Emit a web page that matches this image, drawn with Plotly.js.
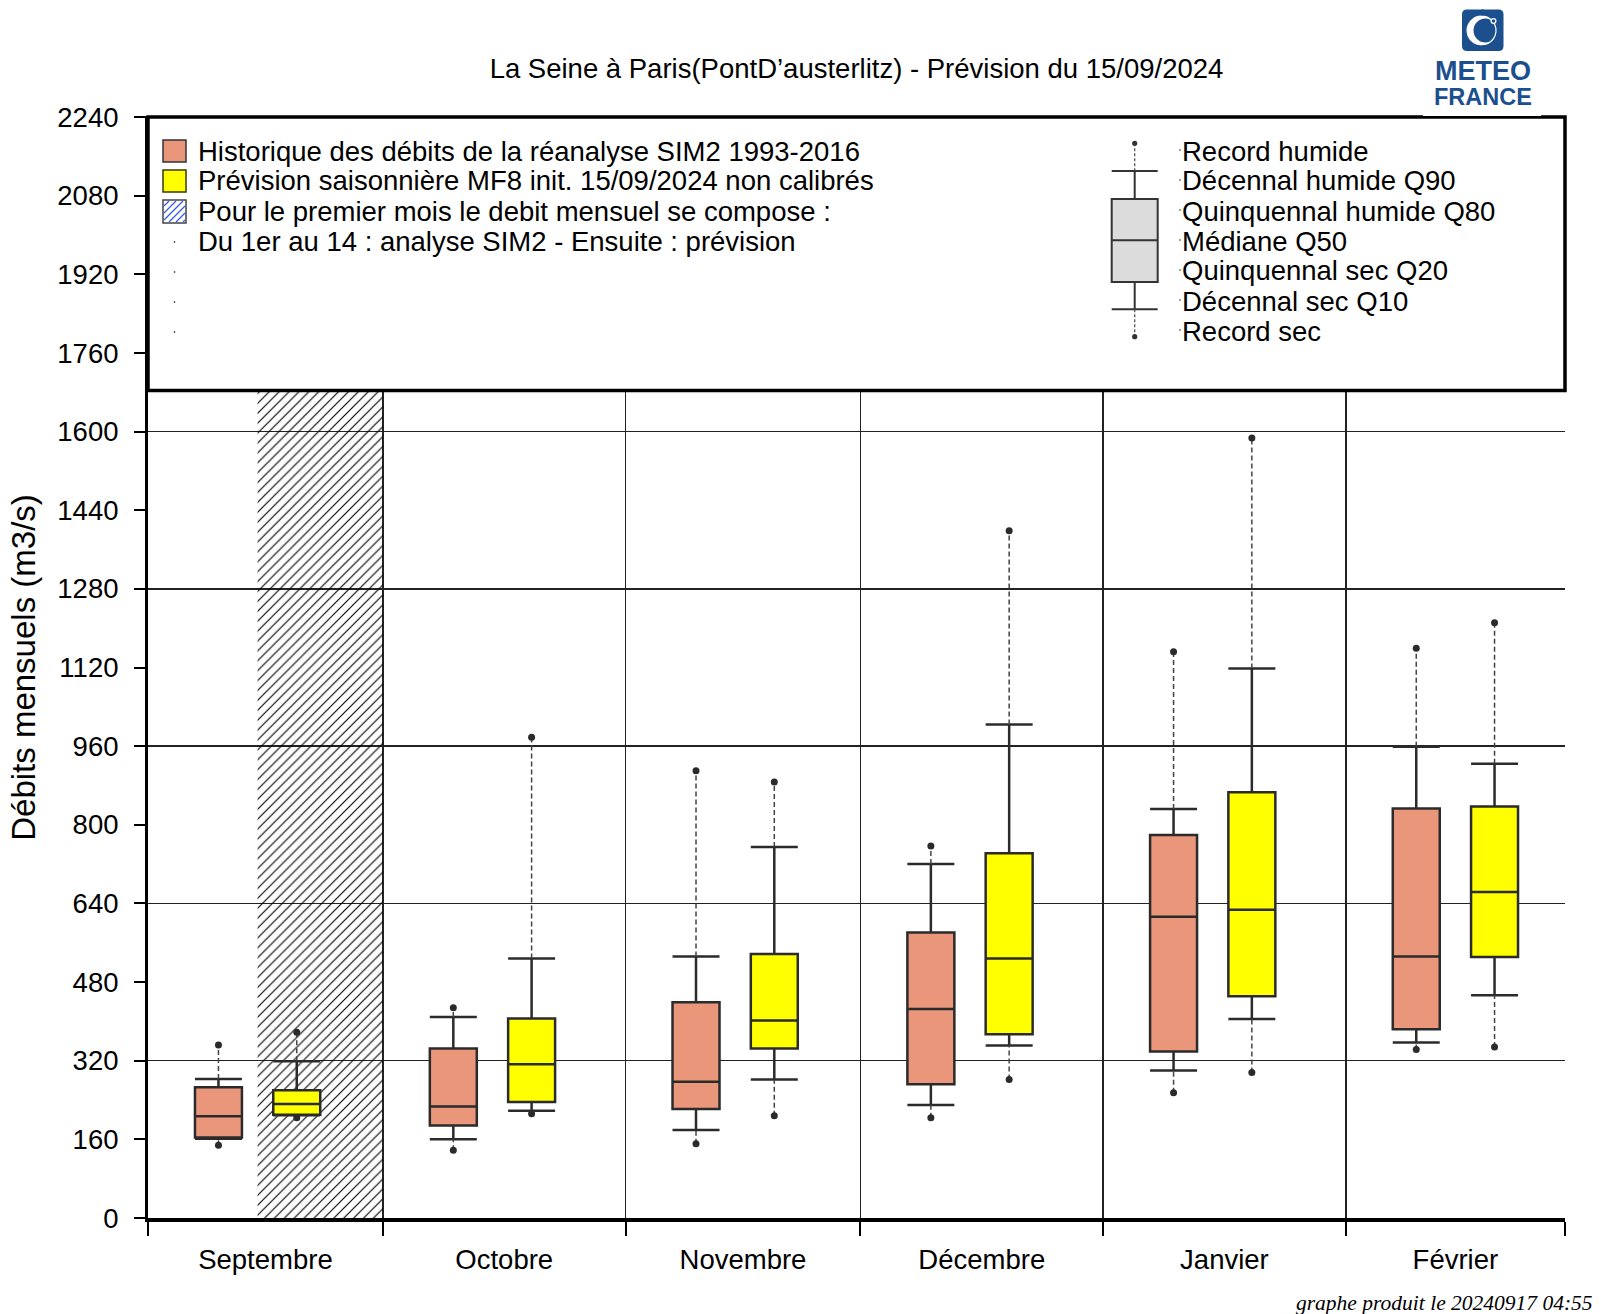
<!DOCTYPE html>
<html>
<head>
<meta charset="utf-8">
<script src="https://cdn.plot.ly/plotly-3.0.1.min.js"></script>
<style>html,body{margin:0;padding:0;background:#fff;}</style>
</head>
<body>
<div id="chart" style="width:1601px;height:1314px;"></div>
<script>
// ---------------- DATA ----------------
const monthStarts = ['2024-09-01','2024-10-01','2024-11-01','2024-12-01','2025-01-01','2025-02-01','2025-03-01'];
const monthLabels = ['Septembre','Octobre','Novembre','Décembre','Janvier','Février'];

// Historique SIM2 1993-2016
const histRecordHigh = [352, 428, 910, 757, 1152, 1159];
const histQ90        = [283, 409, 532, 720, 832, 959];
const histQ80        = [266, 345, 439, 581, 779, 833];
const histQ50        = [207, 227, 277, 425, 613, 532];
const histQ20        = [164, 188, 222, 272, 339, 384];
const histQ10        = [161, 160, 179, 230, 300, 357];
const histRecordLow  = [148, 138, 151, 204, 255, 343];

// Prévision MF8 init. 15/09/2024
const fcstRecordHigh = [378, 978, 887, 1398, 1587, 1211];
const fcstQ90        = [319, 528, 755, 1004, 1118, 924];
const fcstQ80        = [260, 406, 537, 742, 866, 837];
const fcstQ50        = [232, 313, 402, 528, 627, 663];
const fcstQ20        = [210, 236, 345, 374, 451, 531];
const fcstQ10        = [209, 218, 282, 351, 405, 453];
const fcstRecordLow  = [204, 212, 208, 282, 296, 348];

const hatchStart = '2024-09-15';   // début de la prévision
const hatchEnd   = '2024-10-01';

const yTickValues = [0,160,320,480,640,800,960,1120,1280,1440,1600,1760,1920,2080,2240];
const yGridValues = [0,320,640,960,1280,1600,1920,2240];
const yMax = 2240;

const titleText = 'La Seine à Paris(PontD’austerlitz) - Prévision du 15/09/2024';
const yTitleText = 'Débits mensuels (m3/s)';
const legendLabels = [
  'Historique des débits de la réanalyse SIM2 1993-2016',
  'Prévision saisonnière MF8 init. 15/09/2024 non calibrés',
  'Pour le premier mois le debit mensuel se compose :',
  'Du 1er au 14 : analyse SIM2 - Ensuite : prévision'
];
const keyLabels = ['Record humide','Décennal humide Q90','Quinquennal humide Q80','Médiane Q50','Quinquennal sec Q20','Décennal sec Q10','Record sec'];
const footerText = 'graphe produit le 20240917 04:55';

// ---------------- HELPERS ----------------
const DAY = 86400000;
function ms(s){ const [y,m,d] = s.split('-').map(Number); return Date.UTC(y, m-1, d); }
function fmt(t){ return new Date(t).toISOString().replace('T',' ').slice(0,19); }
const HIST_OFFSET = 9, FCST_OFFSET = 19, BOX_DAYS = 6;
const months = monthLabels.map((_, i) => monthStarts[i]);
const histX = months.map(s => fmt(ms(s) + HIST_OFFSET*DAY));
const fcstX = months.map(s => fmt(ms(s) + FCST_OFFSET*DAY));
const midX = monthLabels.map((_, i) => fmt((ms(monthStarts[i]) + ms(monthStarts[i+1]))/2));

const FONT = 'Liberation Sans, Arial, Helvetica, sans-serif';
const SALMON = '#E9967A', YELLOW = '#FFFF00', EDGE = '#2b2b2b';

// pixel -> paper helpers (plot area)
const W = 1601, H = 1314, L = 148, R = 1565, T = 117, B = 1218;
const PX = p => (p - L) / (R - L);
const PY = p => (B - p) / (B - T);

// ---------------- TRACES ----------------
const traces = [];

// hatched first month (base subplot)
traces.push({
  type:'scatter', x:[hatchStart, hatchEnd, hatchEnd, hatchStart, hatchStart],
  y:[0, 0, yMax, yMax, 0], mode:'lines', fill:'toself',
  fillcolor:'rgba(0,0,0,0)', line:{width:0},
  fillpattern:{shape:'/', size:7, solidity:0.16, fgcolor:'#000'},
  hoverinfo:'skip', showlegend:false, xaxis:'x', yaxis:'y'
});

function boxTrace(xs, q10, q20, q50, q80, q90, color, name){
  return {
    type:'box', name:name, x:xs, q1:q20, median:q50, q3:q80,
    lowerfence:q10, upperfence:q90, orientation:'v',
    width:BOX_DAYS*DAY, whiskerwidth:1, boxpoints:false,
    fillcolor:color, line:{color:EDGE, width:2.5},
    xaxis:'x2', yaxis:'y2', showlegend:false, hoverinfo:'skip'
  };
}
function extTrace(xs, q90, hi, q10, lo){
  const x = [], y = [];
  xs.forEach((d, i) => { x.push(d, d, null, d, d, null); y.push(q90[i], hi[i], null, lo[i], q10[i], null); });
  return {type:'scatter', mode:'lines', x:x, y:y, line:{color:'#444', width:1.5, dash:'5px,3px'},
          connectgaps:false, xaxis:'x2', yaxis:'y2', hoverinfo:'skip', showlegend:false};
}
function dotTrace(xs, hi, lo){
  return {type:'scatter', mode:'markers', x:xs.concat(xs), y:hi.concat(lo),
          marker:{size:7, color:EDGE}, xaxis:'x2', yaxis:'y2', hoverinfo:'skip', showlegend:false};
}
traces.push(extTrace(histX, histQ90, histRecordHigh, histQ10, histRecordLow));
traces.push(extTrace(fcstX, fcstQ90, fcstRecordHigh, fcstQ10, fcstRecordLow));
traces.push(boxTrace(histX, histQ10, histQ20, histQ50, histQ80, histQ90, SALMON, 'Historique'));
traces.push(boxTrace(fcstX, fcstQ10, fcstQ20, fcstQ50, fcstQ80, fcstQ90, YELLOW, 'Prévision'));
traces.push(dotTrace(histX, histRecordHigh, histRecordLow));
traces.push(dotTrace(fcstX, fcstRecordHigh, fcstRecordLow));

// ---------------- LEGEND (drawn inside plot) ----------------
const shapes = [];
const annotations = [];
function rectPx(x0, y0, x1, y1, fill, lineColor, lw, extra){
  shapes.push(Object.assign({type:'rect', xref:'paper', yref:'paper', x0:PX(x0), x1:PX(x1), y0:PY(y1), y1:PY(y0),
    fillcolor:fill, line:{color:lineColor, width:lw}, layer:'above'}, extra||{}));
}
function linePx(x0, y0, x1, y1, color, lw, dash){
  shapes.push({type:'line', xref:'paper', yref:'paper', x0:PX(x0), x1:PX(x1), y0:PY(y0), y1:PY(y1),
    line:{color:color, width:lw, dash:dash||'solid'}, layer:'above'});
}
function circlePx(cx, cy, r, fill, lineColor, lw){
  shapes.push({type:'circle', xref:'paper', yref:'paper', x0:PX(cx-r), x1:PX(cx+r), y0:PY(cy+r), y1:PY(cy-r),
    fillcolor:fill, line:{color:lineColor||fill, width:lw||0}, layer:'above'});
}
function textPx(x, y, text, size, opts){
  annotations.push(Object.assign({xref:'paper', yref:'paper', x:PX(x), y:PY(y), text:text, showarrow:false,
    xanchor:'left', yanchor:'middle', font:{family:FONT, size:size, color:'#000'}}, opts||{}));
}

// legend frame
rectPx(L, T, R, 390.5, '#fff', '#000', 3.5);

const ROW0 = 151, ROWH = 30;
// swatches
rectPx(163, 140, 186, 162, SALMON, '#333', 1.5);
rectPx(163, 170, 186, 192, YELLOW, '#3a3a00', 1.5);
rectPx(163, 200, 186, 223, '#fff', '#444', 1.5);
(function(){
  const x0 = 164, x1 = 185, y0 = 201, y1 = 222;
  for (let k = x0 + y0 + 5; k < x1 + y1; k += 7){
    const xs = Math.max(x0, k - y1), xe = Math.min(x1, k - y0);
    if (xe - xs > 1) linePx(xs, k - xs, xe, k - xe, '#3a5bd8', 1.2);
  }
})();
legendLabels.forEach((t, i) => textPx(196, ROW0 + i*ROWH, t, 27.5));
[3,4,5,6].forEach(i => circlePx(174.5, ROW0 + i*ROWH + 1, 0.8, '#000'));

// box key
const KX = 1134.7, KL = 1111.7, KR = 1157.7;
linePx(KX, 143.3, KX, 171, '#555', 1.3, '3px,2px');
linePx(KL, 171, KR, 171, '#333', 2);
linePx(KX, 171, KX, 199, '#333', 2);
rectPx(KL, 199, KR, 282, '#dcdcdc', '#333', 2);
linePx(KL, 240.3, KR, 240.3, '#333', 2);
linePx(KX, 282, KX, 309.3, '#333', 2);
linePx(KL, 309.3, KR, 309.3, '#333', 2);
linePx(KX, 309.3, KX, 336.7, '#555', 1.3, '3px,2px');
circlePx(KX, 143.3, 2.6, '#333');
circlePx(KX, 336.7, 2.6, '#333');
keyLabels.forEach((t, i) => { textPx(1180, ROW0 + i*ROWH, t, 27.5); circlePx(1180, ROW0 + i*ROWH - 1, 0.7, '#000'); });

// ---------------- LOGO ----------------
const BLUE = '#1b4f8e';
rectPx(1423, -2, 1541, 116, '#fff', '#fff', 0);
(function(){
  const x0 = 1462, x1 = 1503.5, y0 = 9.5, y1 = 51, r = 5;
  const p = (x, y) => PX(x) + ',' + PY(y);
  const path = 'M' + p(x0+r, y0) + ' L' + p(x1-r, y0) + ' Q' + p(x1, y0) + ' ' + p(x1, y0+r) +
    ' L' + p(x1, y1-r) + ' Q' + p(x1, y1) + ' ' + p(x1-r, y1) + ' L' + p(x0+r, y1) + ' Q' + p(x0, y1) + ' ' + p(x0, y1-r) +
    ' L' + p(x0, y0+r) + ' Q' + p(x0, y0) + ' ' + p(x0+r, y0) + ' Z';
  shapes.push({type:'path', xref:'paper', yref:'paper', path:path, fillcolor:BLUE, line:{width:0}, layer:'above'});
})();
circlePx(1481.5, 30.5, 15, '#fff');
circlePx(1485.5, 30.5, 12, BLUE);
circlePx(1482, 30.5, 14, 'rgba(0,0,0,0)', '#fff', 1.2);
circlePx(1493.5, 21, 2.4, BLUE, '#fff', 1.2);
linePx(1482.5, 9.5, 1482.5, 15.5, BLUE, 2.5);
linePx(1482.5, 45.5, 1482.5, 51, BLUE, 2.5);
textPx(1482.5, 71, '<b>METEO</b>', 27, {xanchor:'center', font:{family:'Liberation Sans Narrow, ' + FONT, size:27, color:BLUE}});
textPx(1483, 97.5, '<b>FRANCE</b>', 23.5, {xanchor:'center', font:{family:'Liberation Sans Narrow, ' + FONT, size:23.5, color:BLUE}});

// footer
textPx(1294, 1303, '<i>' + footerText + '</i>', 21.5, {font:{family:'Liberation Serif, Times New Roman, serif', size:21.5, color:'#000'}});

// ---------------- LAYOUT ----------------
const layout = {
  width:W, height:H,
  margin:{l:L, r:W-R, t:T, b:H-B, pad:0},
  paper_bgcolor:'#fff', plot_bgcolor:'#fff',
  showlegend:false, boxmode:'overlay',
  font:{family:FONT, size:27.5, color:'#000'},
  title:{text:titleText, font:{family:FONT, size:27.5, color:'#000'}, x:0.5, xref:'paper',
         y:1 - 68/H, yref:'container', yanchor:'middle'},
  xaxis:{type:'date', range:[monthStarts[0], monthStarts[monthStarts.length-1]],
         tickmode:'array', tickvals:monthStarts, showticklabels:false,
         ticks:'outside', ticklen:14, tickwidth:2, tickcolor:'#000',
         showgrid:true, gridcolor:'#222', gridwidth:1.5,
         showline:true, linecolor:'#000', linewidth:4, zeroline:false, fixedrange:true},
  yaxis:{range:[0, yMax], tickmode:'array', tickvals:yGridValues, showticklabels:false, ticks:'',
         showgrid:true, gridcolor:'#222', gridwidth:1.5,
         showline:true, linecolor:'#000', linewidth:3.5, zeroline:false, fixedrange:true},
  xaxis2:{type:'date', overlaying:'x', anchor:'y2', side:'bottom',
          range:[monthStarts[0], monthStarts[monthStarts.length-1]],
          tickmode:'array', tickvals:midX, ticktext:monthLabels, ticks:'',
          ticklabelstandoff:22, tickfont:{family:FONT, size:27.5, color:'#000'},
          showgrid:false, showline:false, zeroline:false, fixedrange:true},
  yaxis2:{overlaying:'y', anchor:'x2', side:'left', range:[0, yMax],
          tickmode:'array', tickvals:yTickValues, ticks:'outside', ticklen:13, tickwidth:2, tickcolor:'#000',
          ticklabelstandoff:10, tickfont:{family:FONT, size:27.5, color:'#000'},
          showgrid:false, showline:false, zeroline:false, fixedrange:true,
          title:{text:yTitleText, font:{family:FONT, size:33, color:'#000'}, standoff:11}},
  shapes:shapes, annotations:annotations
};

Plotly.newPlot('chart', traces, layout, {displayModeBar:false, staticPlot:true});
</script>
</body>
</html>
